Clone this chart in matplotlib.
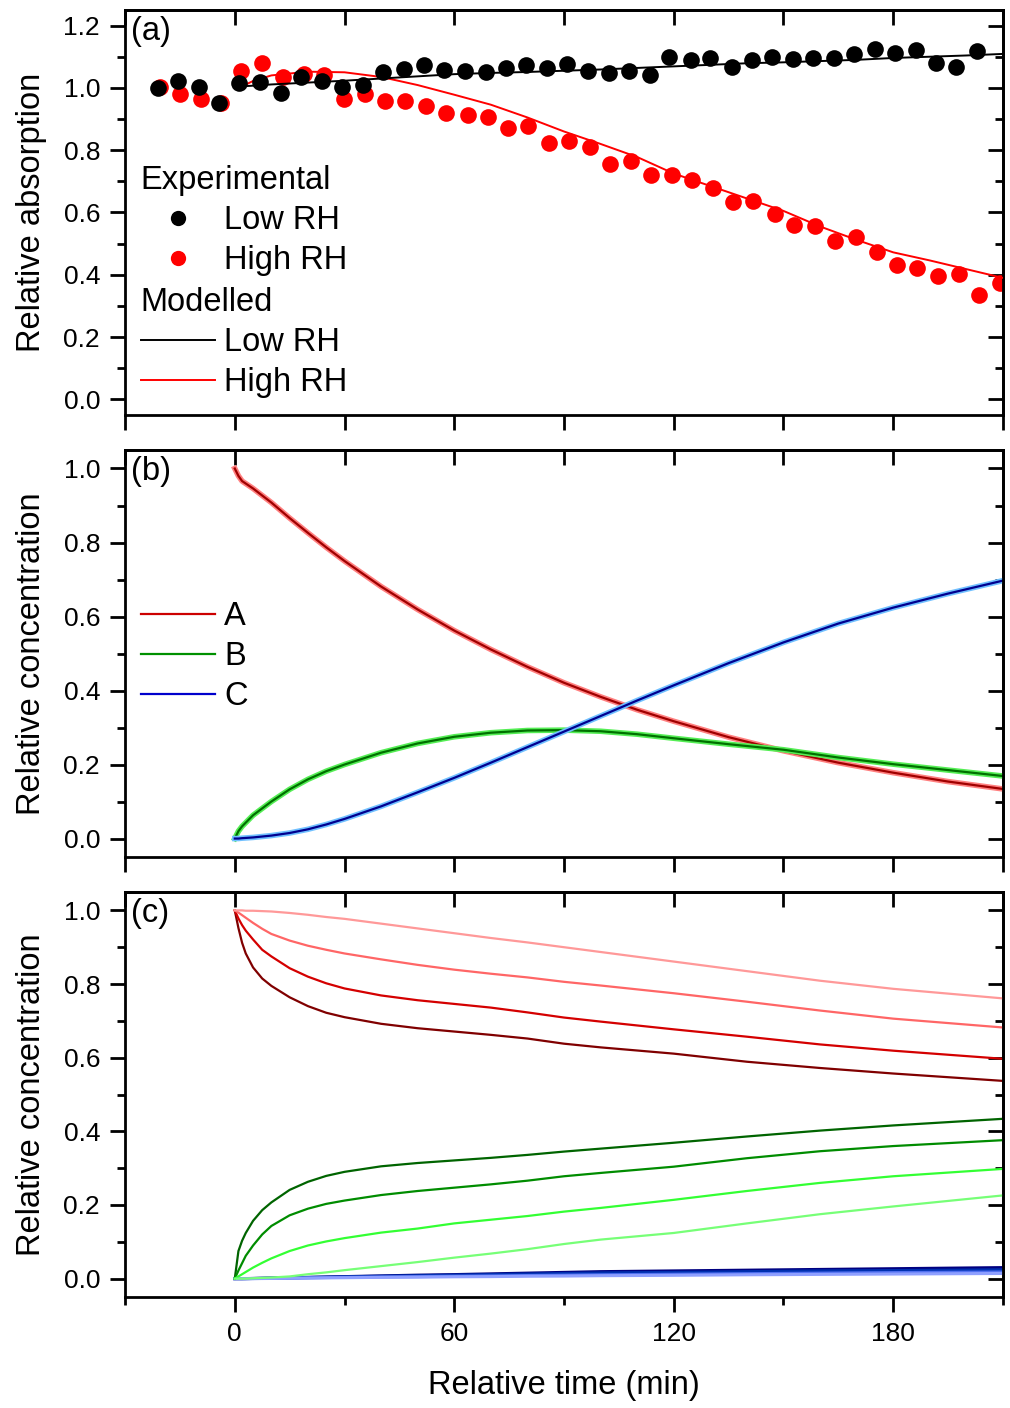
import numpy as np
import matplotlib.pyplot as plt
from matplotlib.lines import Line2D
from matplotlib.ticker import MultipleLocator, FormatStrFormatter

plt.rcParams['font.family'] = ['Liberation Sans', 'DejaVu Sans']

# ---- panel (a): experimental points ----
t_low = [-21.0, -15.5, -9.8, -4.2, 1.2, 7.0, 12.7, 18.1, 23.8, 29.4, 35.0, 40.6,
         46.2, 51.8, 57.2, 63.0, 68.6, 74.1, 79.7, 85.3, 90.8, 96.7, 102.2, 107.8,
         113.4, 118.8, 124.6, 130.0, 135.8, 141.3, 146.9, 152.5, 158.1, 163.7,
         169.4, 174.9, 180.5, 186.1, 191.7, 197.3, 202.8]
y_low = [1.000, 1.023, 1.004, 0.953, 1.015, 1.019, 0.984, 1.034, 1.023, 1.002, 1.008,
         1.050, 1.061, 1.074, 1.058, 1.055, 1.052, 1.063, 1.073, 1.063, 1.078, 1.055,
         1.047, 1.055, 1.042, 1.100, 1.089, 1.096, 1.068, 1.089, 1.100, 1.093, 1.096,
         1.096, 1.109, 1.125, 1.112, 1.121, 1.079, 1.068, 1.117]
t_high = [-20.4, -15.0, -9.3, -3.8, 1.8, 7.5, 13.1, 18.8, 24.3, 29.9, 35.6, 41.1,
          46.6, 52.3, 57.7, 63.7, 69.1, 74.8, 80.2, 86.0, 91.4, 97.2, 102.7, 108.3,
          113.8, 119.6, 125.1, 130.7, 136.3, 141.8, 147.6, 153.0, 158.7, 164.2,
          169.9, 175.5, 181.1, 186.6, 192.3, 197.9, 203.5, 209.1]
y_high = [1.004, 0.981, 0.964, 0.951, 1.053, 1.081, 1.036, 1.044, 1.042, 0.963, 0.979,
          0.959, 0.959, 0.943, 0.920, 0.914, 0.908, 0.871, 0.876, 0.823, 0.829, 0.810,
          0.757, 0.766, 0.721, 0.721, 0.704, 0.677, 0.634, 0.636, 0.595, 0.560, 0.558,
          0.509, 0.521, 0.474, 0.431, 0.423, 0.397, 0.403, 0.336, 0.374]

# ---- panel (a): modelled ----
t_mod = [2, 5, 10, 20, 30, 40, 50, 60, 70, 80, 90, 100, 110, 120, 130, 140, 150,
         160, 170, 180, 190, 200, 210]
low_mod = [1.005, 1.007, 1.011, 1.017, 1.023, 1.030, 1.037, 1.044, 1.048, 1.051,
           1.055, 1.059, 1.064, 1.069, 1.074, 1.079, 1.082, 1.086, 1.090, 1.096,
           1.100, 1.104, 1.109]
high_mod = [1.005, 1.022, 1.040, 1.052, 1.050, 1.035, 1.009, 0.978, 0.946, 0.905,
            0.860, 0.820, 0.778, 0.725, 0.685, 0.645, 0.605, 0.555, 0.512, 0.472,
            0.446, 0.418, 0.390]

# ---- panel (b) ----
t_b = [0, 1, 2, 5, 10, 15, 20, 25, 30, 40, 50, 60, 70, 80, 90, 100, 110, 120, 135,
       150, 165, 180, 195, 210]
A_b = [1.0, 0.980, 0.966, 0.946, 0.908, 0.866, 0.826, 0.787, 0.750, 0.681, 0.619,
       0.562, 0.511, 0.464, 0.421, 0.383, 0.348, 0.317, 0.274, 0.237, 0.205, 0.178,
       0.154, 0.134]
B_b = [0, 0.020, 0.033, 0.063, 0.100, 0.133, 0.160, 0.182, 0.200, 0.232, 0.257,
       0.275, 0.286, 0.292, 0.293, 0.290, 0.282, 0.271, 0.255, 0.240, 0.219, 0.201,
       0.185, 0.169]
C_b = [0, 0.0, 0.001, 0.003, 0.008, 0.015, 0.025, 0.038, 0.053, 0.087, 0.125, 0.164,
       0.205, 0.247, 0.289, 0.331, 0.373, 0.414, 0.474, 0.530, 0.581, 0.624, 0.662,
       0.697]

# ---- panel (c) ----
t_c = [0, 1, 2, 3, 5, 7.5, 10, 15, 20, 25, 30, 40, 50, 60, 70, 80, 90, 100, 120,
       140, 160, 180, 210]
A_c = [
    [1.0, 0.952, 0.912, 0.883, 0.845, 0.815, 0.795, 0.764, 0.740, 0.722, 0.710, 0.692,
     0.680, 0.671, 0.662, 0.652, 0.638, 0.628, 0.611, 0.589, 0.572, 0.557, 0.537],
    [1.0, 0.978, 0.960, 0.945, 0.921, 0.893, 0.875, 0.843, 0.820, 0.802, 0.788, 0.769,
     0.756, 0.746, 0.736, 0.723, 0.709, 0.698, 0.677, 0.657, 0.636, 0.619, 0.597],
    [1.0, 0.994, 0.987, 0.980, 0.966, 0.950, 0.936, 0.918, 0.904, 0.893, 0.883, 0.867,
     0.852, 0.839, 0.828, 0.818, 0.806, 0.796, 0.775, 0.752, 0.728, 0.706, 0.682],
    [1.0, 1.0, 1.0, 0.999, 0.999, 0.998, 0.997, 0.993, 0.988, 0.982, 0.977, 0.964,
     0.951, 0.938, 0.925, 0.913, 0.900, 0.887, 0.861, 0.835, 0.809, 0.787, 0.761],
]
B_c = [
    [0, 0.075, 0.103, 0.124, 0.157, 0.186, 0.207, 0.241, 0.263, 0.279, 0.290, 0.305,
     0.314, 0.321, 0.328, 0.336, 0.345, 0.353, 0.369, 0.386, 0.402, 0.416, 0.434],
    [0, 0.022, 0.042, 0.062, 0.090, 0.120, 0.143, 0.172, 0.190, 0.203, 0.212, 0.227,
     0.238, 0.247, 0.256, 0.266, 0.278, 0.287, 0.304, 0.327, 0.346, 0.360, 0.376],
    [0, 0.006, 0.012, 0.018, 0.030, 0.043, 0.055, 0.075, 0.090, 0.101, 0.110, 0.125,
     0.136, 0.150, 0.160, 0.170, 0.182, 0.192, 0.214, 0.238, 0.260, 0.278, 0.298],
    [0, 0, 0, 0, 0.001, 0.002, 0.003, 0.006, 0.012, 0.017, 0.023, 0.034, 0.045, 0.057,
     0.068, 0.080, 0.094, 0.106, 0.124, 0.150, 0.175, 0.196, 0.226],
]
C_c = [
    [0, 0, 0, 0.0002, 0.0005, 0.001, 0.0015, 0.0025, 0.0035, 0.0045, 0.0055, 0.0075,
     0.0095, 0.011, 0.013, 0.015, 0.017, 0.019, 0.021, 0.023, 0.025, 0.027, 0.030],
    [0, 0, 0, 0.0001, 0.0004, 0.0008, 0.0012, 0.002, 0.003, 0.004, 0.005, 0.0065,
     0.008, 0.0095, 0.011, 0.0125, 0.014, 0.0155, 0.017, 0.019, 0.021, 0.022, 0.024],
    [0, 0, 0, 0, 0.0002, 0.0005, 0.0008, 0.0015, 0.002, 0.003, 0.0035, 0.0045, 0.0055,
     0.0065, 0.0075, 0.0085, 0.0095, 0.0105, 0.012, 0.0135, 0.015, 0.0165, 0.018],
    [0, 0, 0, 0, 0.0001, 0.0003, 0.0005, 0.001, 0.0015, 0.002, 0.0025, 0.0035, 0.004,
     0.005, 0.0055, 0.0065, 0.007, 0.008, 0.009, 0.0105, 0.0115, 0.0125, 0.014],
]

red_shades = ['#800000', '#d40000', '#ff6666', '#ff9999']
green_shades = ['#006400', '#008c00', '#33ff33', '#77ff77']
blue_shades = ['#000080', '#0030b0', '#5070f0', '#8fa0ff']

FS = 23.5
TFS = 19
LW = 2.0


def style_axes(ax, yticks, last=False):
    ax.set_xlim(-30, 210)
    ax.set_yticks(yticks)
    ax.yaxis.set_minor_locator(MultipleLocator(0.1))
    ax.yaxis.set_major_formatter(FormatStrFormatter('%.1f'))
    if last:
        ax.set_xticks([0, 60, 120, 180])
        ax.xaxis.set_minor_locator(MultipleLocator(30))
    else:
        ax.set_xticks(np.arange(-30, 211, 30))
        ax.tick_params(labelbottom=False)
    ax.tick_params(which='major', direction='out', length=11, width=LW,
                   labelsize=TFS, pad=7)
    ax.tick_params(which='minor', direction='out', length=6, width=LW)
    for s in ax.spines.values():
        s.set_linewidth(LW)

    top = ax.secondary_xaxis('top')
    top.set_xticks(np.arange(-30, 211, 30))
    top.tick_params(direction='in', length=11, width=LW, labeltop=False)
    top.spines['top'].set_linewidth(LW)
    right = ax.secondary_yaxis('right')
    right.set_yticks(yticks)
    right.yaxis.set_minor_locator(MultipleLocator(0.1))
    right.tick_params(which='major', direction='in', length=11, width=LW,
                      labelright=False)
    right.tick_params(which='minor', direction='in', length=6, width=LW)
    right.spines['right'].set_linewidth(LW)


fig = plt.figure(figsize=(10.1, 14.08), dpi=100)
L, W = 0.1238, 0.8692
ax1 = fig.add_axes([L, 0.7053, W, 0.2876])
ax2 = fig.add_axes([L, 0.3913, W, 0.2891])
ax3 = fig.add_axes([L, 0.0788, W, 0.2877])

# (a)
ax1.plot(t_high, y_high, 'o', color='#ff0000', ms=12, mec='none', zorder=2)
ax1.plot(t_mod, high_mod, '-', color='#ff0000', lw=1.4, zorder=3)
ax1.plot(t_low, y_low, 'o', color='black', ms=12, mec='none', zorder=4)
ax1.plot(t_mod, low_mod, '-', color='black', lw=1.4, zorder=5)
ax1.set_ylim(-0.05, 1.25)
style_axes(ax1, np.arange(0, 1.21, 0.2))
ax1.set_ylabel('Relative absorption', fontsize=FS)

exp_h = [Line2D([], [], ls='none', marker='o', color='black', ms=11, mec='none'),
         Line2D([], [], ls='none', marker='o', color='#ff0000', ms=11, mec='none')]
mod_h = [Line2D([], [], color='black', lw=1.4),
         Line2D([], [], color='#ff0000', lw=1.4)]
leg_kw = dict(frameon=False, fontsize=FS, title_fontsize=FS, loc='upper left',
              borderpad=0, borderaxespad=0, handlelength=2.27, handletextpad=0.28,
              labelspacing=0.28, alignment='left', numpoints=1)
leg1 = ax1.legend(exp_h, ['Low RH', 'High RH'], title='Experimental',
                  bbox_to_anchor=(0.018, 0.617), **leg_kw)
ax1.add_artist(leg1)
ax1.legend(mod_h, ['Low RH', 'High RH'], title='Modelled',
           bbox_to_anchor=(0.018, 0.316), **leg_kw)

# (b)
ax2.plot(t_b, A_b, color='#ff8080', lw=4)
ax2.plot(t_b, A_b, color='#a00000', lw=1.6)
ax2.plot(t_b, B_b, color='#55ee55', lw=4)
ax2.plot(t_b, B_b, color='#007000', lw=1.6)
ax2.plot(t_b, C_b, color='#70c0ff', lw=4)
ax2.plot(t_b, C_b, color='#000090', lw=1.6)
ax2.set_ylim(-0.05, 1.05)
style_axes(ax2, np.arange(0, 1.01, 0.2))
ax2.set_ylabel('Relative concentration', fontsize=FS)
abc_h = [Line2D([], [], color='#cc0000', lw=1.6),
         Line2D([], [], color='#009000', lw=1.6),
         Line2D([], [], color='#0000cc', lw=1.6)]
ax2.legend(abc_h, ['A', 'B', 'C'], frameon=False, fontsize=FS, loc='upper left',
           bbox_to_anchor=(0.018, 0.629), borderpad=0, borderaxespad=0,
           handlelength=2.27, handletextpad=0.28, labelspacing=0.28)

# (c)
for i in range(4):
    ax3.plot(t_c, C_c[i], color=blue_shades[i], lw=2.2)
for i in range(4):
    ax3.plot(t_c, A_c[i], color=red_shades[i], lw=1.6)
    ax3.plot(t_c, B_c[i], color=green_shades[i], lw=1.6)
ax3.set_ylim(-0.05, 1.05)
style_axes(ax3, np.arange(0, 1.01, 0.2), last=True)
ax3.set_ylabel('Relative concentration', fontsize=FS)
ax3.set_xlabel('Relative time (min)', fontsize=FS)
ax3.xaxis.set_label_coords(0.5, -0.18)

for ax, lab in zip([ax1, ax2, ax3], ['(a)', '(b)', '(c)']):
    ax.text(0.007, 0.985, lab, transform=ax.transAxes, fontsize=FS,
            ha='left', va='top')
    ax.yaxis.set_label_coords(-0.089, 0.5)

fig.savefig('out.png', dpi=100)
